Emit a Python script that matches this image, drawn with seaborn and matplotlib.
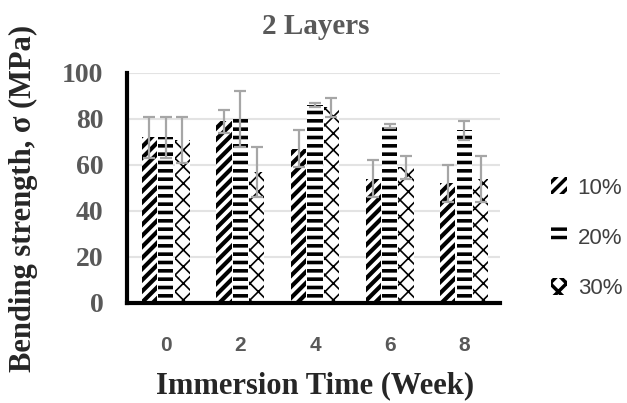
import matplotlib
matplotlib.use("Agg")
import matplotlib.pyplot as plt
import seaborn as sns
import pandas as pd
import numpy as np
from matplotlib.patches import Patch
from matplotlib.container import BarContainer

weeks = ["0", "2", "4", "6", "8"]
series = ["10%", "20%", "30%"]
vals_10 = [72, 79, 67, 54, 52]
vals_20 = [72, 80, 86, 77, 75]
vals_30 = [71, 57, 85, 59, 54]
err_10 = [9, 5, 8, 8, 8]
err_20 = [9, 12, 1, 1, 4]
err_30 = [10, 11, 4, 5, 10]

sns.set_theme(style="white")
plt.rcParams['font.family'] = ['Liberation Serif', 'DejaVu Serif']
plt.rcParams['hatch.linewidth'] = 2.5

rows = []
for s, v in zip(series, [vals_10, vals_20, vals_30]):
    for w, val in zip(weeks, v):
        rows.append({"Week": w, "Series": s, "Value": val})
df = pd.DataFrame(rows)

fig = plt.figure(figsize=(6.27, 4.03), dpi=100)
ax = fig.add_axes([127/627, 1 - 303/403, (500 - 127)/627, (303 - 73)/403])

sns.barplot(data=df, x="Week", y="Value", hue="Series", order=weeks, hue_order=series,
            width=0.66, gap=0.08, errorbar=None, ax=ax, legend=False,
            palette=["white"]*3, saturation=1)

hatches = ['///', '--', 'xx']
hlw = [3.0, 2.6, 1.2]
errs = [err_10, err_20, err_30]
bar_conts = [c for c in list(ax.containers) if isinstance(c, BarContainer)]
for ci, cont in enumerate(bar_conts):
    xs, ys = [], []
    for bar in cont.patches:
        bar.set_hatch(hatches[ci])
        bar.set_edgecolor('black')
        bar.set_linewidth(0)
        bar.set_facecolor('white')
        if hasattr(bar, 'set_hatch_linewidth'):
            bar.set_hatch_linewidth(hlw[ci])
        xs.append(bar.get_x() + bar.get_width()/2)
        ys.append(bar.get_height())
    ax.errorbar(xs, ys, yerr=errs[ci], fmt='none', ecolor='#a6a6a6',
                elinewidth=1.6, capsize=4.3, capthick=1.6, zorder=5)

ax.set_ylim(0, 100)
ax.set_xlim(-0.52, 4.48)
ax.set_yticks([0, 20, 40, 60, 80, 100])
ax.yaxis.grid(True, color='#e3e3e3', linewidth=1.5)
ax.set_axisbelow(True)
for sp in ['top', 'right']:
    ax.spines[sp].set_visible(False)
for sp in ['left', 'bottom']:
    ax.spines[sp].set_color('black')
    ax.spines[sp].set_linewidth(3)
ax.tick_params(axis='y', length=0, labelsize=20, labelcolor='#595959', pad=17)
ax.tick_params(axis='x', length=0, labelsize=15, labelcolor='#595959', pad=24)
for lab in ax.get_yticklabels():
    lab.set_fontweight('bold')
for lab in ax.get_xticklabels():
    lab.set_fontweight('bold')
    lab.set_family(['Liberation Sans', 'DejaVu Sans'])

ax.set_xlabel("Immersion Time (Week)", fontsize=22, fontweight='bold', color='#262626')
ax.set_ylabel("Bending strength, σ (MPa)", fontsize=22, fontweight='bold', color='#262626')
ax.xaxis.set_label_coords((315 - 127)/373, (303 - 371)/230)
ax.yaxis.set_label_coords((38 - 127)/373, (303 - 198)/230)
fig.text(316/627, 1 - 27/403, "2 Layers", ha='center', va='center', fontsize=21,
         fontweight='bold', color='#595959')

handles = []
for h, lw in zip(hatches, hlw):
    p = Patch(facecolor='white', edgecolor='black', linewidth=0, hatch=h)
    if hasattr(p, 'set_hatch_linewidth'):
        p.set_hatch_linewidth(lw)
    handles.append(p)
leg = fig.legend(handles, series, loc='center left', bbox_to_anchor=(551/627, 1 - 238/403),
                 frameon=False, prop={'family': 'Liberation Sans', 'size': 16},
                 borderpad=0, borderaxespad=0,
                 labelspacing=1.3, handlelength=0.7, handleheight=0.8, handletextpad=0.5)
for t in leg.get_texts():
    t.set_color('#404040')

fig.savefig("out.png", dpi=100)
